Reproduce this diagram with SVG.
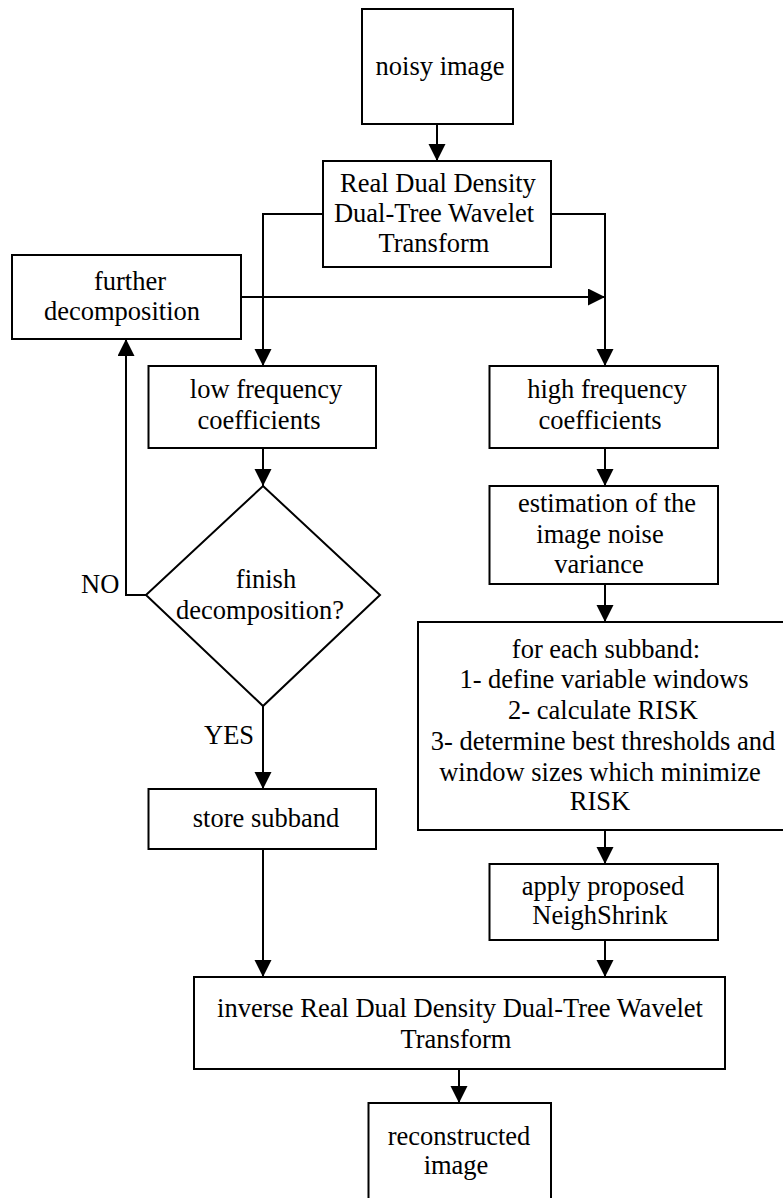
<svg xmlns="http://www.w3.org/2000/svg" width="783" height="1198" viewBox="0 0 783 1198">
<style>
.box{fill:#fff;stroke:#000;stroke-width:2}
.t{font-family:"Liberation Serif","Times New Roman",serif;font-size:26.5px;fill:#000;text-anchor:middle}
.l{font-family:"Liberation Serif","Times New Roman",serif;font-size:26.5px;fill:#000}
.c{fill:none;stroke:#000;stroke-width:2}
</style>
<defs>
<marker id="ah" markerUnits="userSpaceOnUse" markerWidth="18" markerHeight="18" refX="17" refY="8.5" orient="auto">
<path d="M0,0 L17,8.5 L0,17 z" fill="#000"/>
</marker>
</defs>
<rect width="783" height="1198" fill="#fff"/>
<g id="connectors">
<path class="c" d="M437,124 V161" marker-end="url(#ah)"/>
<path class="c" d="M323,214 H263 V366" marker-end="url(#ah)"/>
<path class="c" d="M551,214 H605 V366" marker-end="url(#ah)"/>
<path class="c" d="M241,297 H605" marker-end="url(#ah)"/>
<path class="c" d="M263,448 V486" marker-end="url(#ah)"/>
<path class="c" d="M146,595 H126 V339" marker-end="url(#ah)"/>
<path class="c" d="M263,706 V789" marker-end="url(#ah)"/>
<path class="c" d="M605,448 V486" marker-end="url(#ah)"/>
<path class="c" d="M605,584 V622" marker-end="url(#ah)"/>
<path class="c" d="M605,830 V864" marker-end="url(#ah)"/>
<path class="c" d="M263,849 V977" marker-end="url(#ah)"/>
<path class="c" d="M605,940 V977" marker-end="url(#ah)"/>
<path class="c" d="M459,1069 V1103" marker-end="url(#ah)"/>
<text class="l" x="81" y="593">NO</text>
<text class="l" x="204" y="744">YES</text>
</g>
<g id="noisy">
<rect class="box" x="362" y="9" width="151" height="115"/>
<text class="t" x="440" y="75">noisy image</text>
</g>
<g id="rdddtwt">
<rect class="box" x="323" y="161" width="228" height="106"/>
<text class="t" x="438" y="192">Real Dual Density</text>
<text class="t" x="434" y="222">Dual-Tree Wavelet</text>
<text class="t" x="434" y="252">Transform</text>
</g>
<g id="further">
<rect class="box" x="12" y="255" width="229" height="84"/>
<text class="t" x="130" y="290">further</text>
<text class="t" x="122" y="320">decomposition</text>
</g>
<g id="low">
<rect class="box" x="148.5" y="366" width="227.5" height="82"/>
<text class="t" x="266" y="398">low frequency</text>
<text class="t" x="259" y="429">coefficients</text>
</g>
<g id="high">
<rect class="box" x="489.5" y="366" width="228.5" height="82"/>
<text class="t" x="607" y="398">high frequency</text>
<text class="t" x="600" y="429">coefficients</text>
</g>
<g id="finish">
<polygon class="box" points="263,486 380,595 263,706 146,595"/>
<text class="t" x="266" y="588">finish</text>
<text class="t" x="260" y="619">decomposition?</text>
</g>
<g id="estimation">
<rect class="box" x="489.5" y="486" width="228.5" height="98"/>
<text class="t" x="607" y="512">estimation of the</text>
<text class="t" x="600" y="543">image noise</text>
<text class="t" x="599" y="573">variance</text>
</g>
<g id="subband">
<rect class="box" x="418" y="622" width="380" height="208"/>
<text class="t" x="606" y="658">for each subband:</text>
<text class="t" x="604" y="688">1- define variable windows</text>
<text class="t" x="603" y="719">2- calculate RISK</text>
<text class="t" x="603" y="750">3- determine best thresholds and</text>
<text class="t" x="600" y="781">window sizes which minimize</text>
<text class="t" x="600" y="810">RISK</text>
</g>
<g id="store">
<rect class="box" x="148.5" y="789" width="227.5" height="60"/>
<text class="t" x="266" y="827">store subband</text>
</g>
<g id="apply">
<rect class="box" x="489.5" y="864" width="228.5" height="76"/>
<text class="t" x="603" y="895">apply proposed</text>
<text class="t" x="600" y="924">NeighShrink</text>
</g>
<g id="inverse">
<rect class="box" x="194" y="977" width="531" height="92"/>
<text class="t" x="460" y="1017">inverse Real Dual Density Dual-Tree Wavelet</text>
<text class="t" x="456" y="1048">Transform</text>
</g>
<g id="reconstructed">
<rect class="box" x="368.5" y="1103" width="182.5" height="110"/>
<text class="t" x="459" y="1145">reconstructed</text>
<text class="t" x="456" y="1174">image</text>
</g>
</svg>
